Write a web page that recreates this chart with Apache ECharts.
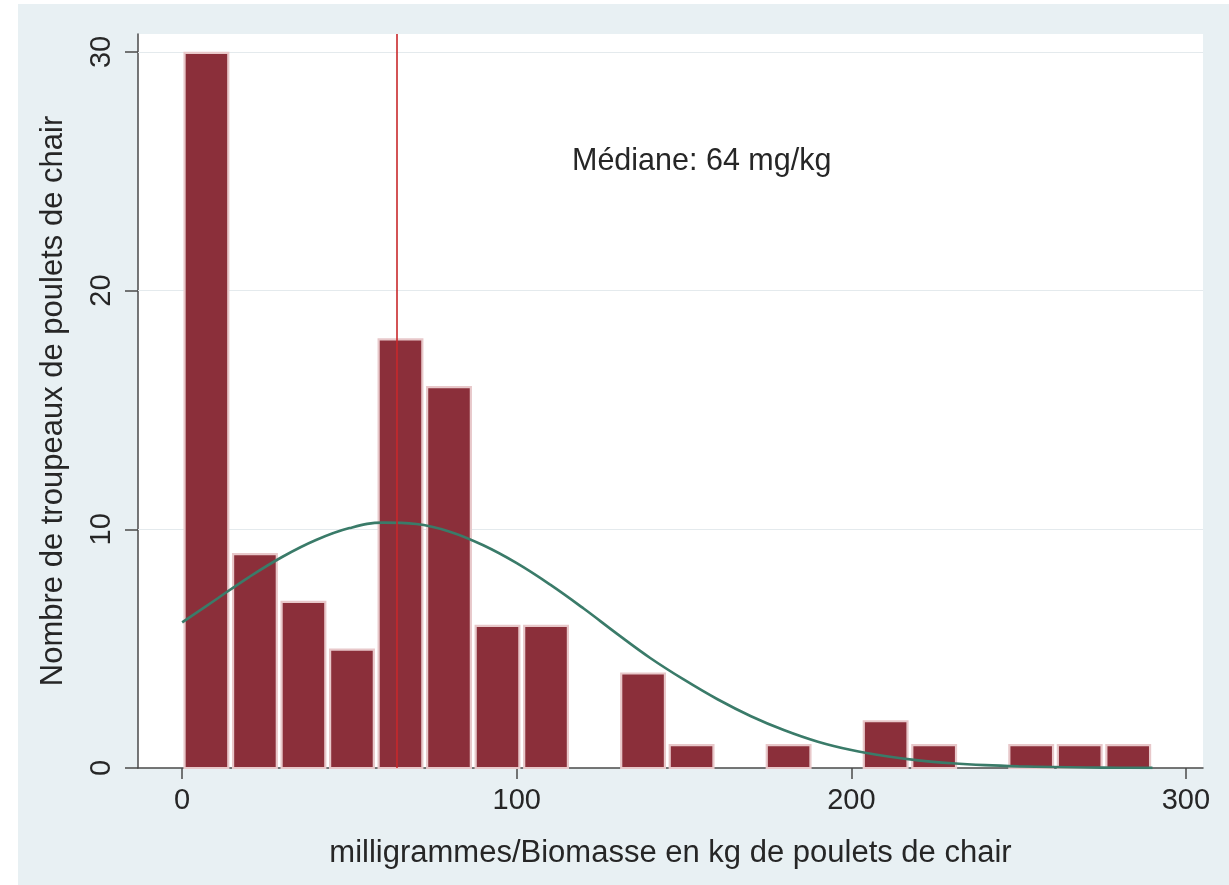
<!DOCTYPE html>
<html>
<head>
<meta charset="utf-8">
<script src="https://cdn.jsdelivr.net/npm/echarts@6/dist/echarts.min.js"></script>
<style>
  html, body { margin: 0; padding: 0; background: #ffffff; }
  #chart { width: 1229px; height: 885px; }
</style>
</head>
<body>
<div id="chart"></div>
<script>
// Histogram bins: lower/upper edges (mg per kg of broiler biomass) and flock counts
const binEdges = [0, 14.5, 29, 43.5, 58, 72.5, 87, 101.5, 116, 130.5, 145,
                  159.5, 174, 188.5, 203, 217.5, 232, 246.5, 261, 275.5, 290];
const binCounts = [30, 9, 7, 5, 18, 16, 6, 6, 0, 4, 1, 0, 1, 0, 2, 1, 0, 1, 1, 1];

// Fitted normal density overlay (in frequency units), read along x
const curveX = [0, 10, 20, 30, 40, 50, 60, 70, 80, 90, 100, 110, 120, 130, 140,
                150, 160, 170, 180, 190, 200, 210, 220, 230, 240, 250, 260, 270, 280, 290];
const curveY = [6.1, 7.05, 8.0, 8.85, 9.55, 10.05, 10.28, 10.22, 9.9, 9.33, 8.58, 7.68, 6.68, 5.62, 4.6,
                3.7, 2.88, 2.17, 1.58, 1.1, 0.75, 0.5, 0.32, 0.2, 0.12, 0.07, 0.04, 0.02, 0.01, 0.005];

const medianValue = 64;
const xTicks = [0, 100, 200, 300];
const yTicks = [0, 10, 20, 30];

const xTitle = 'milligrammes/Biomasse en kg de poulets de chair';
const yTitle = 'Nombre de troupeaux de poulets de chair';
const medianLabel = 'Médiane: ' + medianValue + ' mg/kg';

const FONT = "'Liberation Sans', Arial, Helvetica, sans-serif";
const TEXT = '#262626';
const AXIS = '#4a4a4a';

const histData = binCounts.map((c, i) => [binEdges[i], binEdges[i + 1], c]);
const curveData = curveX.map((x, i) => [x, curveY[i]]);

const chart = echarts.init(document.getElementById('chart'), null, { renderer: 'canvas' });

chart.setOption({
  backgroundColor: '#ffffff',
  animation: false,
  graphic: [
    {
      type: 'rect', z: -10, silent: true,
      shape: { x: 18, y: 4, width: 1211, height: 881 },
      style: { fill: '#e8f0f3' }
    },
    {
      type: 'text', z: 100, left: 572, top: 146,
      style: { text: medianLabel, font: '30.5px ' + FONT, fill: TEXT }
    }
  ],
  grid: {
    left: 138, top: 34, right: 26, bottom: 117,
    show: true, backgroundColor: '#ffffff', borderWidth: 0
  },
  xAxis: {
    type: 'value',
    min: -13.2, max: 305.1,
    name: xTitle,
    nameLocation: 'middle',
    nameGap: 70,
    nameTextStyle: { fontFamily: FONT, fontSize: 31, color: TEXT },
    axisLine: { show: true, onZero: false, lineStyle: { color: AXIS, width: 1.5 } },
    axisTick: { show: true, length: 11, customValues: xTicks, lineStyle: { color: AXIS, width: 1.5 } },
    axisLabel: { customValues: xTicks, margin: 18, fontFamily: FONT, fontSize: 29, color: TEXT },
    splitLine: { show: false }
  },
  yAxis: {
    type: 'value',
    min: 0, max: 30.75,
    name: yTitle,
    nameLocation: 'middle',
    nameGap: 69,
    nameRotate: 90,
    nameTextStyle: { fontFamily: FONT, fontSize: 31, color: TEXT },
    axisLine: { show: true, onZero: false, lineStyle: { color: AXIS, width: 1.5 } },
    axisTick: { show: true, length: 13, customValues: yTicks, lineStyle: { color: AXIS, width: 1.5 } },
    axisLabel: { customValues: yTicks, rotate: 90, margin: 22, fontFamily: FONT, fontSize: 29, color: TEXT },
    splitLine: { show: false }
  },
  series: [
    {
      // light horizontal gridlines at the labelled ticks, kept behind the bars
      type: 'line', data: [], z: 1, silent: true,
      markLine: {
        z: 1,
        silent: true, symbol: 'none', label: { show: false },
        lineStyle: { color: '#e4eaed', width: 1.2, type: 'solid' },
        data: yTicks.filter(v => v > 0).map(v => ({ yAxis: v }))
      }
    },
    {
      type: 'custom',
      z: 2,
      data: histData,
      encode: { x: [0, 1], y: 2 },
      renderItem: function (params, api) {
        const x0 = api.value(0), x1 = api.value(1), h = api.value(2);
        if (!h) return null;
        const p0 = api.coord([x0, 0]);
        const p1 = api.coord([x1, h]);
        const inset = 2.4;
        return {
          type: 'rect',
          shape: { x: p0[0] + inset, y: p1[1] + 1, width: p1[0] - p0[0] - 2 * inset, height: p0[1] - p1[1] - 1 },
          style: { fill: '#8b2f3a', stroke: '#e8c8ca', lineWidth: 2.2 }
        };
      }
    },
    {
      type: 'line',
      z: 4,
      data: curveData,
      smooth: 0.4,
      showSymbol: false,
      silent: true,
      lineStyle: { color: '#3a7b69', width: 2.6 }
    },
    {
      // median marker
      type: 'line', data: [], z: 5, silent: true,
      markLine: {
        z: 5,
        silent: true, symbol: 'none', label: { show: false },
        lineStyle: { color: '#c8282b', width: 1.6, type: 'solid' },
        data: [{ xAxis: medianValue }]
      }
    }
  ]
});
</script>
</body>
</html>
